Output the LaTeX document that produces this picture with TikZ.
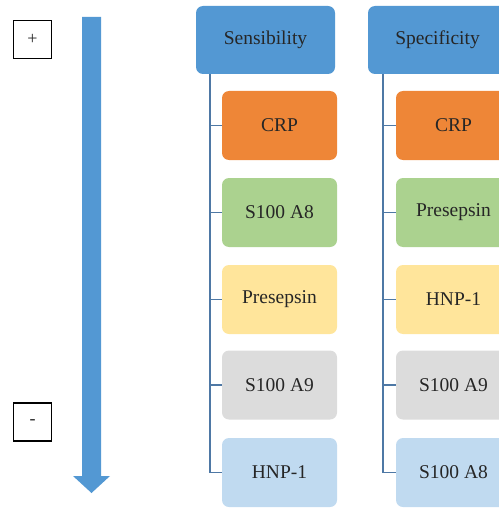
\documentclass[tikz,border=0pt]{standalone}
\usepackage{fontspec}
\setmainfont{Liberation Serif}
\usetikzlibrary{calc}
\definecolor{hdrblue}{RGB}{83,152,211}
\definecolor{arrblue}{RGB}{83,152,211}
\definecolor{orng}{RGB}{238,134,55}
\definecolor{grn}{RGB}{171,210,143}
\definecolor{ylw}{RGB}{255,229,155}
\definecolor{gry}{RGB}{220,220,220}
\definecolor{ltblue}{RGB}{192,218,240}
\definecolor{linec}{RGB}{78,120,165}
\tikzset{
  hdr/.style={fill=hdrblue, rounded corners=7pt, minimum width=139pt, minimum height=68pt, inner sep=0pt, text=black!85, font=\fontsize{19.5}{22}\selectfont},
  child/.style={rounded corners=7pt, minimum width=115pt, minimum height=69pt, inner sep=0pt, text=black!85, font=\fontsize{19.5}{22}\selectfont},
  signbox/.style={draw=black, line width=1.7pt, minimum width=38pt, minimum height=38pt, inner sep=0pt, text=black!85, font=\fontsize{18}{20}\selectfont},
  conn/.style={draw=linec, line width=1.8pt}
}
\begin{document}
\begin{tikzpicture}[x=1pt,y=-1pt]
\useasboundingbox (0,0) rectangle (498,508);
% arrow
\fill[arrblue] (82,17) -- (101,17) -- (101,476) -- (110,476) -- (91.5,493) -- (73,476) -- (82,476) -- cycle;
\node[signbox] (plus) at (32.5,39.5) {+};
\node[signbox] (minus) at (32.5,422) {-};
% column 1
\node[hdr] (h1) at (265.5,40) {Sensibility};
\node[child, fill=orng] (a1) at (279.5,125.5) {CRP};
\node[child, fill=grn] (a2) at (279.5,212.5) {S100 A8};
\node[child, fill=ylw] (a3) at (279.5,299.5) {Presepsin};
\node[child, fill=gry] (a4) at (279.5,385) {S100 A9};
\node[child, fill=ltblue] (a5) at (279.5,472.5) {HNP-1};
\coordinate (t1) at ($(h1.south west)+(14,0)$);
\foreach \i in {1,...,5} {\draw[conn] (t1) |- (a\i.west);}
% column 2
\node[hdr] (h2) at (437.5,40) {Specificity};
\node[child, fill=orng] (b1) at (453.5,125.5) {CRP};
\node[child, fill=grn] (b2) at (453.5,212.5) {Presepsin};
\node[child, fill=ylw] (b3) at (453.5,299.5) {HNP-1};
\node[child, fill=gry] (b4) at (453.5,385) {S100 A9};
\node[child, fill=ltblue] (b5) at (453.5,472.5) {S100 A8};
\coordinate (t2) at ($(h2.south west)+(15,0)$);
\foreach \i in {1,...,5} {\draw[conn] (t2) |- (b\i.west);}
\end{tikzpicture}
\end{document}
